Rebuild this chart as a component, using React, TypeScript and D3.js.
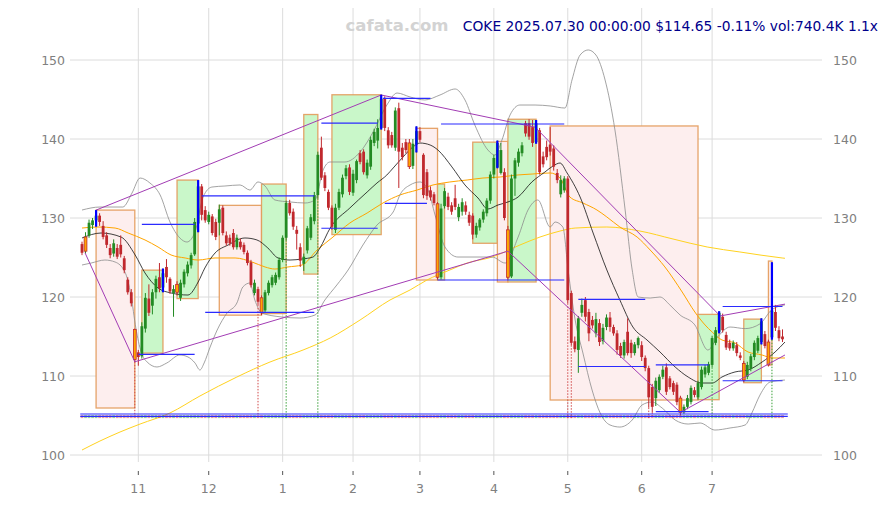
import React, { useMemo } from 'react';
import * as d3 from 'd3';

// Daily bars: [open, high, low, close]
const candles: [number, number, number, number][] = [
  [126.7, 127.0, 125.3, 125.6], [125.8, 128.2, 125.5, 127.6], [127.8, 129.8, 127.5, 129.4], [129.1, 130.0, 128.6, 129.7],
  [129.7, 131.0, 128.9, 130.3], [130.3, 130.6, 129.0, 129.5], [129.0, 129.6, 127.3, 127.6], [127.8, 128.2, 126.2, 126.6],
  [126.2, 126.7, 124.9, 125.3], [125.5, 127.3, 125.1, 126.8], [126.2, 126.7, 124.8, 125.1], [126.6, 127.8, 125.0, 125.4],
  [124.9, 125.2, 123.0, 123.4], [122.2, 122.5, 120.3, 120.6], [120.6, 121.0, 118.8, 119.2], [115.9, 116.0, 111.8, 112.1],
  [113.0, 113.3, 111.3, 112.4], [112.5, 116.8, 112.2, 116.3], [116.0, 120.5, 115.5, 119.9], [119.8, 121.6, 117.6, 118.0],
  [118.9, 121.0, 117.8, 120.6], [120.6, 122.7, 119.8, 122.3], [122.5, 124.3, 120.6, 121.1], [121.2, 123.6, 120.6, 123.0],
  [123.8, 124.8, 121.8, 122.5], [122.3, 122.5, 120.4, 120.7], [120.5, 121.5, 117.5, 121.0], [121.6, 122.0, 120.2, 120.6],
  [119.9, 122.2, 119.5, 121.8], [121.6, 123.5, 121.2, 123.2], [123.0, 124.5, 122.6, 124.1], [124.0, 125.6, 123.6, 125.3],
  [125.4, 130.0, 125.2, 129.5], [129.3, 134.8, 128.2, 134.0], [134.0, 134.3, 129.7, 130.4], [131.0, 131.5, 129.4, 129.7],
  [129.5, 130.8, 129.2, 130.4], [130.2, 130.5, 127.8, 128.1], [129.5, 129.9, 127.2, 127.6], [129.4, 131.7, 127.8, 131.1],
  [131.3, 131.6, 127.8, 128.1], [127.8, 128.3, 126.5, 126.8], [127.5, 127.9, 126.5, 126.8], [128.1, 128.6, 126.0, 126.3],
  [126.3, 127.9, 126.0, 127.5], [127.0, 127.4, 126.0, 126.3], [126.6, 126.9, 125.4, 125.7], [125.6, 125.9, 124.0, 124.3],
  [124.4, 124.7, 121.2, 121.5], [120.5, 122.2, 120.2, 121.8], [121.0, 121.3, 119.0, 119.4], [119.9, 120.2, 117.7, 118.0],
  [118.3, 120.9, 118.0, 120.6], [120.5, 122.1, 120.2, 121.8], [121.5, 122.8, 121.2, 122.5], [121.8, 123.1, 121.5, 122.8],
  [122.5, 125.0, 122.2, 124.7], [124.7, 127.8, 124.4, 127.5], [127.5, 132.2, 127.2, 131.9], [131.9, 132.3, 130.3, 130.6],
  [130.8, 131.2, 128.5, 128.9], [128.5, 129.0, 126.0, 128.0], [126.3, 126.8, 123.8, 124.6], [124.2, 125.5, 123.3, 125.1],
  [125.9, 129.0, 125.5, 128.7], [127.5, 130.5, 127.2, 130.1], [129.6, 133.3, 129.2, 132.9], [132.9, 138.4, 132.5, 138.0],
  [138.9, 140.3, 134.8, 135.1], [135.4, 135.8, 133.4, 133.8], [133.3, 133.6, 131.0, 131.3], [131.3, 131.6, 128.5, 128.9],
  [128.5, 131.8, 128.1, 131.3], [131.3, 133.7, 131.0, 133.3], [133.0, 135.5, 132.6, 135.1], [135.3, 136.7, 134.9, 136.3],
  [136.4, 136.8, 132.9, 133.3], [133.2, 136.1, 132.8, 135.6], [134.8, 137.4, 134.4, 137.2], [138.2, 138.6, 136.8, 137.1],
  [138.4, 138.7, 135.5, 135.8], [135.4, 137.4, 135.0, 137.0], [136.5, 140.3, 136.1, 139.9], [139.5, 141.3, 139.1, 140.9],
  [139.8, 142.5, 138.8, 141.4], [141.4, 145.6, 141.2, 145.1], [145.2, 145.4, 141.0, 141.4], [141.1, 141.5, 138.8, 139.2],
  [140.5, 140.9, 138.9, 139.2], [138.9, 144.0, 138.5, 143.6], [143.9, 144.6, 133.8, 138.4], [138.9, 139.5, 137.3, 137.7],
  [139.6, 140.0, 138.2, 138.6], [139.5, 140.0, 136.2, 136.5], [136.6, 140.0, 136.2, 139.4], [139.3, 141.6, 138.3, 141.0],
  [141.0, 141.5, 139.6, 139.9], [138.0, 138.2, 132.5, 132.9], [135.8, 136.2, 132.3, 132.8], [133.5, 134.0, 132.2, 132.6],
  [133.0, 133.3, 131.6, 131.9], [131.8, 132.0, 122.2, 122.5], [122.5, 131.8, 122.2, 131.2], [131.5, 133.8, 131.2, 133.4],
  [132.7, 133.2, 131.0, 131.4], [131.6, 132.0, 130.4, 130.8], [132.5, 134.2, 131.0, 131.4], [130.1, 131.8, 129.6, 131.4],
  [130.8, 132.5, 130.3, 132.0], [131.6, 132.1, 130.4, 130.8], [130.4, 130.8, 129.0, 129.4], [130.3, 130.6, 127.3, 127.9],
  [127.9, 129.4, 127.5, 129.0], [128.8, 130.0, 128.4, 129.8], [129.8, 131.1, 129.4, 130.8], [130.6, 132.5, 130.2, 132.2],
  [132.2, 135.9, 131.8, 135.5], [135.5, 138.0, 135.0, 137.6], [136.4, 139.8, 136.3, 139.5], [135.7, 139.5, 135.5, 138.6],
  [135.8, 136.3, 129.7, 130.0], [128.5, 129.0, 122.2, 122.5], [122.6, 135.5, 122.4, 135.0], [135.0, 137.6, 132.8, 137.3],
  [137.0, 138.8, 136.5, 138.4], [138.2, 139.6, 137.8, 139.2], [142.0, 142.3, 140.3, 140.7], [142.0, 142.5, 139.9, 140.3],
  [141.5, 142.4, 139.0, 139.5], [139.6, 142.4, 139.4, 142.0], [141.1, 141.4, 135.5, 135.8], [137.8, 138.4, 136.4, 136.8],
  [139.0, 139.8, 137.3, 137.7], [139.3, 141.5, 137.9, 138.4], [138.8, 139.2, 136.0, 136.5], [135.7, 136.2, 134.4, 134.8],
  [133.0, 135.4, 132.6, 134.8], [133.5, 135.3, 133.2, 135.0], [135.0, 135.3, 119.2, 119.6], [120.5, 120.8, 113.9, 114.2],
  [114.4, 115.0, 113.0, 113.4], [113.3, 117.6, 110.4, 117.3], [118.0, 119.8, 117.5, 119.0], [119.6, 120.0, 116.9, 117.5],
  [118.1, 118.5, 114.4, 115.4], [117.1, 117.6, 116.0, 116.4], [115.4, 118.0, 114.9, 117.2], [116.7, 117.2, 113.8, 114.3],
  [114.4, 116.6, 114.0, 116.1], [116.2, 117.8, 115.8, 117.4], [117.4, 118.1, 115.6, 116.2], [116.2, 116.5, 115.1, 115.4],
  [115.4, 115.8, 112.7, 113.3], [113.8, 114.2, 112.3, 112.6], [112.6, 114.6, 112.2, 114.3], [115.6, 117.3, 112.6, 112.9],
  [114.2, 114.6, 112.3, 112.9], [112.9, 114.3, 112.6, 114.0], [113.9, 115.0, 113.5, 114.8], [113.9, 114.4, 111.9, 112.4],
  [112.3, 112.6, 110.6, 111.0], [111.0, 111.3, 106.0, 107.3], [108.6, 109.0, 105.4, 106.1], [107.2, 109.8, 106.2, 109.4],
  [108.2, 110.2, 107.9, 109.9], [109.9, 111.3, 109.6, 110.8], [111.1, 111.6, 107.6, 108.0], [109.7, 110.0, 108.3, 108.6],
  [109.1, 109.4, 107.6, 108.0], [108.9, 109.2, 106.3, 106.7], [107.2, 107.5, 105.0, 105.4], [105.4, 106.4, 105.2, 106.1],
  [106.1, 107.6, 105.8, 107.2], [106.7, 108.8, 106.4, 108.5], [108.2, 108.6, 107.3, 107.6], [107.3, 109.4, 107.0, 109.1],
  [108.6, 111.2, 108.3, 110.8], [110.2, 111.4, 109.8, 111.1], [110.4, 111.8, 110.1, 111.5], [111.4, 115.1, 111.1, 114.8],
  [114.2, 116.2, 113.9, 115.8], [115.6, 118.2, 115.4, 118.0], [117.5, 117.9, 115.5, 115.8], [115.2, 115.6, 113.3, 113.6],
  [114.2, 114.6, 113.2, 113.5], [113.5, 114.5, 113.2, 114.2], [113.9, 114.3, 112.5, 112.9], [112.6, 113.0, 112.0, 112.3],
  [111.6, 111.9, 109.2, 109.5], [109.9, 111.8, 109.6, 111.4], [110.9, 112.8, 110.6, 112.5], [112.4, 114.5, 112.0, 114.2],
  [113.2, 115.1, 112.9, 114.8], [114.3, 117.3, 114.0, 116.9], [115.3, 115.7, 113.5, 113.8], [114.3, 114.6, 111.2, 111.4],
  [114.9, 124.4, 114.6, 118.3], [118.1, 119.0, 115.7, 116.1], [115.8, 116.3, 114.4, 114.78], [115.0, 115.9, 114.3, 114.65],
];

// Bars drawn with an orange body, and bars marked with a blue range line
const highlightBars = [1, 15, 27, 51, 93, 101, 121, 170, 188, 195];
const pivotBars = [4, 23, 33, 85, 95, 118, 129, 181, 193, 196];
// Signal bars with a dotted drop line: 1 = bullish, -1 = bearish
const signalBars: [number, number][] = [
  [15, -1], [50, -1], [58, 1], [67, 1], [138, -1], [139, -1], [161, -1], [162, -1], [179, 1], [196, 1],
];

// Month labels on the bar index where each month starts
const monthTicks: [number, string][] = [
  [16, '11'], [36, '12'], [57, '1'], [77, '2'], [96, '3'], [117, '4'], [138, '5'], [159, '6'], [179, '7'],
];
const priceTicks = [100, 110, 120, 130, 140, 150];

// Consolidation boxes: [startBar, endBar, top, bottom, bullish?]
const boxes: [number, number, number, number, number][] = [
  [4, 15, 131.0, 105.95, 0], [17, 23, 123.4, 112.9, 1], [27, 33, 134.8, 119.8, 1], [39, 51, 131.6, 117.7, 0],
  [51, 58, 134.3, 117.9, 1], [63, 67, 143.1, 122.9, 1], [71, 85, 145.6, 127.9, 1], [95, 101, 141.35, 122.15, 0],
  [101, 103, 134.3, 122.15, 1], [111, 118, 139.6, 126.8, 1], [118, 121, 139.7, 121.9, 0], [121, 129, 142.5, 121.9, 1],
  [133, 175, 141.65, 106.96, 0], [175, 181, 117.8, 107.0, 1], [188, 193, 117.2, 109.15, 1], [195, 196, 124.55, 111.4, 0],
];

// Support / resistance segments: [fromBar, toBar, price]
const levels: [number, number, number][] = [
  [17, 32, 129.2], [16, 32, 112.75], [34, 66, 132.8], [35, 66, 118.06], [68, 84, 128.7], [68, 84, 142.0],
  [85.5, 99, 145.15], [86, 98, 131.86], [101, 137, 122.15], [102, 137, 141.9], [141, 160, 119.7], [141, 160, 111.2],
  [163, 178, 111.4], [163, 178, 105.5], [182, 199, 118.8], [182, 199, 109.4],
  [-0.5, 200.5, 105.19], [-0.5, 200.5, 104.9],
];

// Zigzag trend lines through swing highs and swing lows: [bar, price]
const upperTrend: [number, number][] = [[4, 131.0], [85, 145.57], [128.7, 141.5], [181.3, 117.6], [199.7, 119.1]];
const lowerTrend: [number, number][] = [[0.85, 125.6], [15, 111.8], [121, 125.8], [170, 105.4], [199.7, 112.66]];

// Moving averages and Bollinger bands: [bar, price]
const ma20: [number, number][] = [
  [0, 127.47], [5.4, 128.1], [11.1, 127.59], [15.1, 125.32], [17.9, 123.04], [21.6, 121.14], [25.3, 120.51],
  [30.1, 120.25], [33, 121.9], [34.9, 123.67], [37.8, 125.57], [41.5, 126.58], [46.3, 127.47], [49.7, 127.22],
  [52.8, 126.2], [55.7, 124.94], [59.1, 124.68], [62.5, 124.81], [65.6, 125.06], [67.6, 126.2], [70.5, 128.73],
  [76.1, 131.27], [81, 133.29], [83.8, 134.43], [86.6, 135.44], [88.4, 136.33], [91.2, 137.72], [94, 138.99],
  [96, 139.49], [98.9, 139.24], [101.1, 138.61], [105.1, 136.46], [108.8, 134.18], [112.5, 132.53], [115.3, 131.14],
  [118.2, 131.65], [121, 132.03], [123.9, 132.66], [127.8, 134.56], [131.5, 135.82], [133.8, 136.58], [135.8, 136.96],
  [137.8, 135.7], [141.5, 132.66], [145.2, 128.1], [149.1, 123.42], [152.8, 119.62], [156.5, 116.2], [160.5, 114.56],
  [164.2, 113.04], [168.5, 111.14], [172.2, 109.87], [176.1, 109.11], [179, 109.11], [181.8, 109.87], [185.5, 110.51],
  [189.2, 110.76], [193.2, 111.77], [196.9, 113.04], [199.7, 114.3],
];
const ma50: [number, number][] = [
  [0, 128.73], [4.5, 128.86], [9.4, 128.73], [13.1, 128.1], [17.9, 127.22], [21.6, 126.33], [25.3, 125.32],
  [29.3, 124.94], [33, 124.68], [37.8, 124.94], [43.5, 124.94], [48.3, 124.43], [52, 123.8], [54.8, 123.54],
  [58.5, 123.8], [62.5, 124.05], [66.8, 125.95], [71.3, 127.59], [76.1, 129.37], [81, 130.63], [85.5, 131.9],
  [90.3, 132.91], [95.2, 133.54], [99.7, 134.18], [104.5, 134.56], [109.4, 134.81], [113.9, 135.06], [118.8, 135.19],
  [123.6, 135.44], [128.1, 135.57], [133, 135.7], [135.8, 135.06], [138.6, 132.66], [142.3, 131.9], [146.3, 131.01],
  [149.1, 130.13], [152.8, 128.86], [157.7, 127.59], [161.4, 125.95], [165.6, 123.8], [170.5, 120.63], [174.1, 118.1],
  [177, 116.46], [179, 115.57], [181.8, 114.56], [185.5, 114.18], [189.2, 113.04], [193.2, 112.66], [196, 112.28],
  [199.7, 112.28],
];
const ma200: [number, number][] = [
  [0, 100.63], [5.1, 101.77], [10.8, 102.91], [16.5, 103.92], [25, 105.32], [33.5, 107.47], [44, 109.87],
  [53.4, 111.77], [62.8, 113.29], [70.5, 114.81], [79, 117.09], [87.5, 119.62], [93.2, 120.89], [98, 122.15],
  [104.5, 123.42], [109.4, 124.3], [116.5, 125.06], [124.4, 126.58], [130.1, 127.59], [135.8, 128.35], [140.1, 128.73],
  [149.1, 128.86], [158.5, 128.35], [167.9, 127.34], [177.6, 126.33], [186.9, 125.7], [198.9, 124.94], [199.7, 124.9],
];
const bandUpper: [number, number][] = [
  [0, 131.01], [5.1, 131.39], [11.6, 131.39], [14.2, 133.16], [16.5, 135.06], [19.3, 134.43], [22.2, 132.91],
  [25, 129.49], [27.8, 127.47], [29.8, 126.96], [32.1, 128.23], [34.4, 132.66], [36.9, 133.92], [40.6, 134.05],
  [44.9, 134.18], [47.7, 133.54], [50, 134.56], [52, 134.05], [54.8, 132.28], [59.1, 132.03], [63.4, 131.9],
  [66.2, 132.28], [68.5, 136.08], [70.5, 137.09], [74.7, 137.09], [79, 138.35], [82.7, 140.89], [86.6, 144.3],
  [89.5, 145.82], [93.2, 145.32], [97.4, 144.94], [101.7, 145.57], [106, 146.33], [108.8, 144.94], [111.6, 141.77],
  [115.3, 138.61], [117.3, 137.97], [119.3, 139.87], [121.6, 143.04], [124.4, 144.3], [128.7, 144.3], [133, 144.18],
  [137.2, 143.92], [139.2, 147.47], [141.5, 150.63], [143.8, 151.27], [146, 150.63], [148.6, 147.47], [151.4, 141.14],
  [154.3, 131.01], [156.3, 123.42], [158, 120.0], [161.4, 119.87], [164.2, 120.0], [167, 118.99], [169.9, 117.72],
  [174.1, 116.46], [177.8, 113.29], [180.7, 115.0], [184.1, 116.2], [188.4, 116.0], [192.6, 116.6], [196, 118.4],
  [199.7, 119.0],
];
const bandLower: [number, number][] = [
  [0, 124.05], [2.6, 124.3], [6.5, 124.68], [9.4, 124.43], [12.2, 123.16], [13.9, 120.25], [15.3, 116.08],
  [16.8, 113.04], [18.5, 111.77], [21.3, 111.14], [24.1, 111.65], [27.8, 112.66], [30.1, 112.41], [32.1, 111.65],
  [33.5, 110.76], [34.7, 111.65], [36.4, 113.67], [38.4, 115.82], [41.2, 117.97], [44, 119.24], [45.7, 121.27],
  [47.7, 121.77], [49.1, 119.62], [51.1, 117.97], [56.8, 117.47], [61.9, 117.34], [66.2, 117.72], [69, 119.62],
  [72.4, 121.52], [75.6, 123.42], [79.8, 126.58], [83.8, 129.11], [88.4, 130.76], [90.3, 132.91], [93.2, 134.18],
  [96, 134.56], [98.3, 133.54], [100.3, 130.38], [103.1, 126.33], [106.8, 125.06], [110.8, 125.06], [116.5, 125.06],
  [120.2, 124.3], [123.9, 127.59], [126.7, 131.01], [129.5, 132.28], [133, 128.86], [134.4, 129.49], [136.6, 128.86],
  [138.1, 123.42], [140.1, 117.09], [142.3, 112.91], [144.9, 108.23], [147.2, 105.32], [150, 103.8], [152.8, 103.54],
  [156.3, 104.43], [159.1, 106.33], [161.9, 106.71], [164.8, 105.95], [168.5, 104.43], [172.2, 103.92], [175.6, 104.05],
  [179.8, 103.16], [184.1, 103.42], [188.4, 103.8], [190.3, 105.32], [192.6, 107.59], [195.5, 109.24], [199.7, 109.49],
];

const W = 888;
const H = 505;
const UP = '#238b23';
const DOWN = '#c0282d';
const FONT = 'DejaVu Sans, sans-serif';

export default function App() {
  const x = useMemo(() => d3.scaleLinear().domain([0, 199]).range([82, 782.5]), []);
  const y = useMemo(() => d3.scaleLinear().domain([100, 150]).range([455, 60]), []);
  const plotLeft = 70;
  const plotRight = 822;
  const plotTop = 8;
  const plotBottom = 462;
  const bodyW = 2.8;

  const line = d3
    .line<[number, number]>()
    .x((d) => x(d[0]))
    .y((d) => y(d[1]))
    .curve(d3.curveMonotoneX);
  const straight = d3
    .line<[number, number]>()
    .x((d) => x(d[0]))
    .y((d) => y(d[1]));

  const highlightSet = new Set(highlightBars);
  const volTop = y(105.05);

  return (
    <svg
      width={W}
      height={H}
      style={{ position: 'absolute', left: 0, top: 0, background: '#fff' }}
      fontFamily={FONT}
    >
      {/* grid */}
      {priceTicks.map((p) => (
        <line key={'hg' + p} x1={plotLeft} x2={plotRight} y1={y(p)} y2={y(p)} stroke="#dcdcdc" strokeWidth={1} />
      ))}
      {monthTicks.map(([i]) => (
        <line key={'vg' + i} x1={x(i)} x2={x(i)} y1={plotTop} y2={plotBottom} stroke="#dcdcdc" strokeWidth={1} />
      ))}

      {/* watermark + title */}
      <text x={397} y={31} textAnchor="middle" fontSize={16.5} fontWeight="bold" fill="#d3d3d3">
        cafata.com
      </text>
      <text x={878} y={31} textAnchor="end" fontSize={13.8} fill="#00008b">
        COKE 2025.07.30 00:00:00 $114.65 -0.11% vol:740.4K 1.1x
      </text>

      {/* consolidation boxes */}
      {boxes.map(([a, b, top, bot, bull], k) => (
        <rect
          key={'bx' + k}
          x={x(a)}
          y={y(top)}
          width={x(b) - x(a)}
          height={y(bot) - y(top)}
          fill={bull ? '#c9f7c9' : '#fdeeee'}
          stroke="#e39a5a"
          strokeOpacity={0.9}
          strokeWidth={1.3}
        />
      ))}

      {/* long average + bands + averages */}
      <path d={line(ma200) || ''} fill="none" stroke="#ffd21f" strokeWidth={1} />
      <path d={line(ma50) || ''} fill="none" stroke="#ffa500" strokeWidth={1} />
      <path d={line(bandUpper) || ''} fill="none" stroke="#8c8c8c" strokeWidth={0.8} />
      <path d={line(bandLower) || ''} fill="none" stroke="#8c8c8c" strokeWidth={0.8} />
      <path d={line(ma20) || ''} fill="none" stroke="#111" strokeWidth={0.8} />

      {/* signal drop lines */}
      {signalBars.map(([i, dir]) => (
        <line
          key={'sg' + i}
          x1={x(i)}
          x2={x(i)}
          y1={y(candles[i][2])}
          y2={volTop + 3}
          stroke={dir > 0 ? '#3aa03a' : '#d04848'}
          strokeWidth={1}
          strokeDasharray="1.5,1.5"
        />
      ))}

      {/* volume ticks */}
      {candles.map(([o, , , c], i) => (
        <rect
          key={'v' + i}
          x={x(i) - bodyW / 2}
          y={volTop}
          width={bodyW}
          height={3}
          fill={c >= o ? UP : DOWN}
          opacity={0.45}
        />
      ))}

      {/* candles */}
      {candles.map(([o, h, l, c], i) => {
        const up = c >= o;
        const col = up ? UP : DOWN;
        const hl = highlightSet.has(i);
        const top = y(Math.max(o, c));
        const bh = Math.max(1, Math.abs(y(o) - y(c)));
        return (
          <g key={'c' + i}>
            <line x1={x(i)} x2={x(i)} y1={y(h)} y2={y(l)} stroke={col} strokeWidth={1} />
            <rect
              x={x(i) - bodyW / 2}
              y={top}
              width={bodyW}
              height={bh}
              fill={hl ? '#ffa500' : col}
              stroke={hl ? DOWN : 'none'}
              strokeWidth={hl ? 0.8 : 0}
            />
          </g>
        );
      })}

      {/* trend lines */}
      <path d={straight(upperTrend) || ''} fill="none" stroke="#a23cb4" strokeWidth={1} />
      <path d={straight(lowerTrend) || ''} fill="none" stroke="#a23cb4" strokeWidth={1} />

      {/* support / resistance */}
      {levels.map(([a, b, p], k) => (
        <line key={'lv' + k} x1={x(a)} x2={x(b)} y1={y(p)} y2={y(p)} stroke="#2b2bff" strokeWidth={1.2} />
      ))}

      {/* pivot bars */}
      {pivotBars.map((i) => (
        <line
          key={'pv' + i}
          x1={x(i)}
          x2={x(i)}
          y1={y(candles[i][1])}
          y2={y(candles[i][2])}
          stroke="#0000ff"
          strokeWidth={2.2}
        />
      ))}

      {/* axes labels */}
      {priceTicks.map((p) => (
        <g key={'yl' + p} fontSize={12.5} fill="#808080">
          <text x={65} y={y(p) + 4.5} textAnchor="end">
            {p}
          </text>
          <text x={833} y={y(p) + 4.5} textAnchor="start">
            {p}
          </text>
        </g>
      ))}
      {monthTicks.map(([i, label]) => (
        <g key={'xl' + i}>
          <line x1={x(i)} x2={x(i)} y1={471} y2={475} stroke="#555" strokeWidth={1} />
          <text x={x(i)} y={493} textAnchor="middle" fontSize={12.5} fill="#808080">
            {label}
          </text>
        </g>
      ))}
    </svg>
  );
}
